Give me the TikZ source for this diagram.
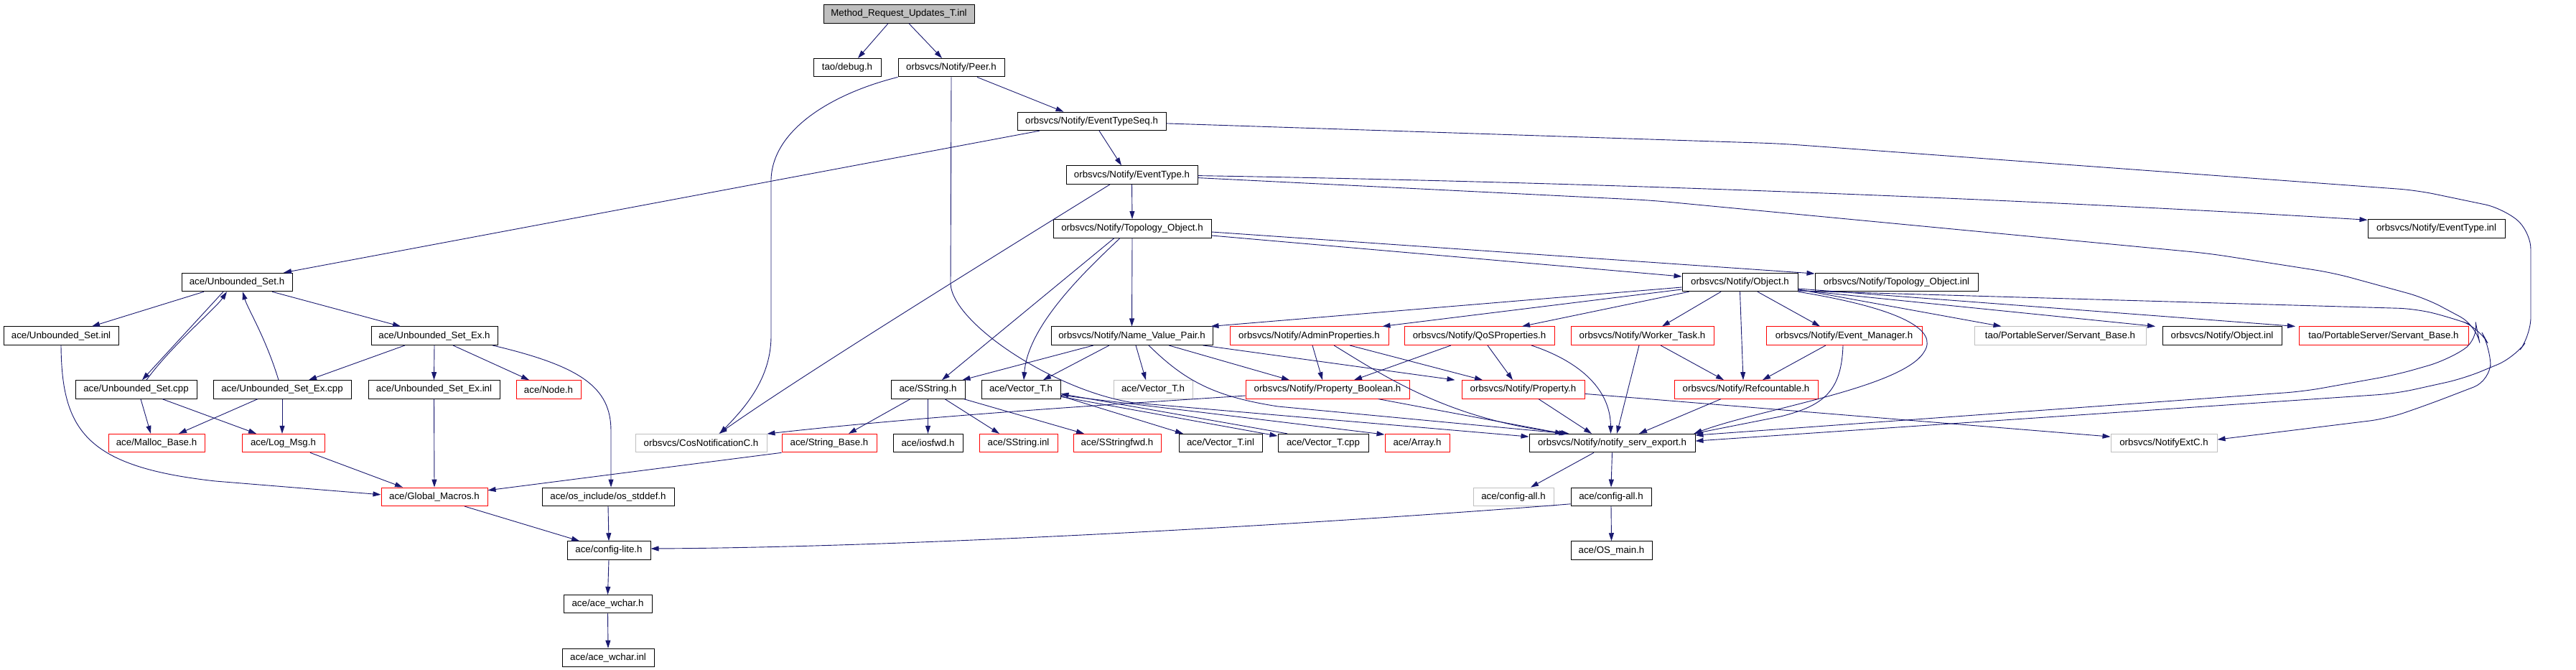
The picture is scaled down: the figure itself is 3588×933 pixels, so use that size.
\documentclass[tikz,border=0pt]{standalone}
\usepackage{fontspec}
\setmainfont{Liberation Sans}
\usetikzlibrary{arrows.meta}
\definecolor{edgec}{HTML}{191970}
\definecolor{grayc}{HTML}{BFBFBF}
\tikzset{
 box/.style={rectangle, draw=black, line width=1pt, minimum height=25.5pt, inner xsep=2pt, inner ysep=0pt, font=\fontsize{13.3}{15}\selectfont, text=black},
 nb/.style={box},
 rb/.style={box, draw=red},
 gb/.style={box, draw=grayc},
 rootb/.style={box, fill=grayc},
 edge/.style={draw=edgec, line width=0.9pt, -{Triangle[length=11pt,width=7pt]}},
}
\begin{document}
\begin{tikzpicture}[x=1pt,y=-1pt]
\fill[white] (0,0) rectangle (3588,933);
\useasboundingbox (0,0) rectangle (3588,933);
% row 0
\node[rootb, minimum width=210pt] (root) at (1252,19.5) {Method\_Request\_Updates\_T.inl};
% row 1
\node[nb, minimum width=94pt] (debug) at (1180,94.2) {tao/debug.h};
\node[nb, minimum width=148pt] (peer) at (1325,94.2) {orbsvcs/Notify/Peer.h};
% row 2
\node[nb, minimum width=207pt] (ets) at (1520.5,168.9) {orbsvcs/Notify/EventTypeSeq.h};
% row 3
\node[nb, minimum width=183pt] (et) at (1576.5,243.6) {orbsvcs/Notify/EventType.h};
% row 4
\node[nb, minimum width=220pt] (topo) at (1577,318.3) {orbsvcs/Notify/Topology\_Object.h};
\node[nb, minimum width=191pt] (etinl) at (3393.5,318.3) {orbsvcs/Notify/EventType.inl};
% row 5
\node[nb, minimum width=154pt] (us) at (330,393) {ace/Unbounded\_Set.h};
\node[nb, minimum width=161pt] (obj) at (2423.5,393) {orbsvcs/Notify/Object.h};
\node[nb, minimum width=227pt] (topoinl) at (2641.5,393) {orbsvcs/Notify/Topology\_Object.inl};
% row 6
\node[nb, minimum width=160pt] (usinl) at (85,467.7) {ace/Unbounded\_Set.inl};
\node[nb, minimum width=176pt] (usex) at (605,467.7) {ace/Unbounded\_Set\_Ex.h};
\node[nb, minimum width=225pt] (nvp) at (1576.5,467.7) {orbsvcs/Notify/Name\_Value\_Pair.h};
\node[rb, minimum width=221pt] (admin) at (1823.5,467.7) {orbsvcs/Notify/AdminProperties.h};
\node[rb, minimum width=209pt] (qos) at (2060.5,467.7) {orbsvcs/Notify/QoSProperties.h};
\node[rb, minimum width=199pt] (worker) at (2287.5,467.7) {orbsvcs/Notify/Worker\_Task.h};
\node[rb, minimum width=217pt] (evm) at (2568.5,467.7) {orbsvcs/Notify/Event\_Manager.h};
\node[gb, minimum width=239pt] (sbg) at (2869.5,467.7) {tao/PortableServer/Servant\_Base.h};
\node[nb, minimum width=166pt] (objinl) at (3095,467.7) {orbsvcs/Notify/Object.inl};
\node[rb, minimum width=236pt] (sbr) at (3320,467.7) {tao/PortableServer/Servant\_Base.h};
% row 7
\node[nb, minimum width=169pt] (uscpp) at (189.5,542.4) {ace/Unbounded\_Set.cpp};
\node[nb, minimum width=192pt] (usexcpp) at (393,542.4) {ace/Unbounded\_Set\_Ex.cpp};
\node[nb, minimum width=183pt] (usexinl) at (604.5,542.4) {ace/Unbounded\_Set\_Ex.inl};
\node[rb, minimum width=90pt] (nodeh) at (764,542.4) {ace/Node.h};
\node[nb, minimum width=103pt] (sstr) at (1292.5,542.4) {ace/SString.h};
\node[nb, minimum width=110pt] (vect) at (1422,542.4) {ace/Vector\_T.h};
\node[gb, minimum width=110pt] (vectg) at (1606,542.4) {ace/Vector\_T.h};
\node[rb, minimum width=228pt] (pbool) at (1849,542.4) {orbsvcs/Notify/Property\_Boolean.h};
\node[rb, minimum width=171pt] (prop) at (2121.5,542.4) {orbsvcs/Notify/Property.h};
\node[rb, minimum width=200pt] (refc) at (2432,542.4) {orbsvcs/Notify/Refcountable.h};
% row 8
\node[rb, minimum width=134pt] (malloc) at (218,617.1) {ace/Malloc\_Base.h};
\node[rb, minimum width=115pt] (logmsg) at (394.5,617.1) {ace/Log\_Msg.h};
\node[gb, minimum width=183pt] (cosn) at (976.5,617.1) {orbsvcs/CosNotificationC.h};
\node[rb, minimum width=132pt] (strbase) at (1155,617.1) {ace/String\_Base.h};
\node[nb, minimum width=97pt] (iosfwd) at (1292.5,617.1) {ace/iosfwd.h};
\node[rb, minimum width=109pt] (sstrinl) at (1418.5,617.1) {ace/SString.inl};
\node[rb, minimum width=122pt] (sstrfwd) at (1556,617.1) {ace/SStringfwd.h};
\node[nb, minimum width=116pt] (vectinl) at (1700,617.1) {ace/Vector\_T.inl};
\node[nb, minimum width=126pt] (vectcpp) at (1843,617.1) {ace/Vector\_T.cpp};
\node[rb, minimum width=90pt] (array) at (1974,617.1) {ace/Array.h};
\node[nb, minimum width=231pt] (nse) at (2245.5,617.1) {orbsvcs/Notify/notify\_serv\_export.h};
\node[gb, minimum width=148pt] (nextc) at (3014,617.1) {orbsvcs/NotifyExtC.h};
% row 9
\node[rb, minimum width=148pt] (gmac) at (605,691.8) {ace/Global\_Macros.h};
\node[nb, minimum width=184pt] (stddef) at (847,691.8) {ace/os\_include/os\_stddef.h};
\node[gb, minimum width=112pt] (cfgallg) at (2108,691.8) {ace/config-all.h};
\node[nb, minimum width=112pt] (cfgall) at (2244,691.8) {ace/config-all.h};
% row 10
\node[nb, minimum width=116pt] (cfglite) at (848,766.5) {ace/config-lite.h};
\node[nb, minimum width=113pt] (osmain) at (2244.5,766.5) {ace/OS\_main.h};
% row 11, 12
\node[nb, minimum width=123pt] (wchar) at (846.5,841.2) {ace/ace\_wchar.h};
\node[nb, minimum width=128pt] (wcharinl) at (847,915.9) {ace/ace\_wchar.inl};

% ---- edges ----
\draw[edge] ([xshift=-15pt]root.south) -- ([xshift=15pt]debug.north);
\draw[edge] ([xshift=14pt]root.south) -- ([xshift=-13pt]peer.north);
\draw[edge] ([xshift=36pt]peer.south) -- ([xshift=-39pt]ets.north);
\draw[edge] (peer.south west) .. controls (1160,130) and (1076,180) .. (1074,250) -- (1074,470) .. controls (1073,530) and (1035,570) .. ([xshift=26pt]cosn.north);
\draw[edge] (peer.south) -- (1324,395) .. controls (1326,450) and (1470,545) .. (1580,561) -- ([yshift=9pt]nse.west);
\draw[edge] ([xshift=10.5pt]ets.south) -- ([xshift=-14.5pt]et.north);
\draw[edge] ([xshift=-72.5pt]ets.south) -- ([xshift=65pt]us.north);
\draw[edge, rounded corners=25pt] ([yshift=-3pt]ets.east) -- (2480,200) -- (3366,265) -- (3486,290) -- (3525,322) -- (3525,467) -- (3502,498) -- (3432,527) -- (3337,548) -- ([yshift=3pt]nse.east);
\draw[edge] (et.south) -- (topo.north);
\draw[edge] ([yshift=-1pt]et.east) .. controls (2300,255) and (2900,282) .. ([yshift=12pt]etinl.west);
\draw[edge, rounded corners=25pt] ([yshift=-4pt]et.east) -- (2300,279) -- (3077,353) -- (3250,380) -- (3378,415) -- (3449,453) -- (3453,473) -- (3407,502) -- (3337,522) -- (3209,545) -- ([yshift=11pt]nse.east);
\draw[edge] ([xshift=-30.5pt]et.south) .. controls (1420,335) and (1120,520) .. ([xshift=25pt]cosn.north);
\draw[edge] (topo.south) -- (nvp.north);
\draw[edge] ([xshift=-25pt]topo.south) -- ([xshift=19.5pt]sstr.north);
\draw[edge] ([xshift=-17pt]topo.south) .. controls (1520,370) and (1432,450) .. ([xshift=4pt]vect.north);
\draw[edge] ([yshift=-4.7pt]topo.east) -- ([yshift=12pt]topoinl.west);
\draw[edge] ([yshift=-9.7pt]topo.east) -- ([yshift=8pt]obj.west);
% Unbounded set cluster
\draw[edge] ([xshift=-46pt]us.south) -- ([xshift=43pt]usinl.north);
\draw[edge] ([xshift=-19pt]us.south) -- ([xshift=8.5pt]uscpp.north);
\draw[edge] ([xshift=14.5pt]uscpp.north) .. controls (240,480) and (300,430) .. ([xshift=-14pt]us.south);
\draw[edge] ([xshift=-5pt]usexcpp.north) .. controls (370,470) and (345,430) .. ([xshift=8pt]us.south);
\draw[edge] ([xshift=49pt]us.south) -- ([xshift=-47pt]usex.north);
\draw[edge] (usinl.south) .. controls (86,600) and (120,650) .. (300,670) -- ([yshift=3pt]gmac.west);
\draw[edge] ([xshift=-41pt]usex.south) -- ([xshift=37pt]usexcpp.north);
\draw[edge] (usex.south) -- (usexinl.north);
\draw[edge] ([xshift=26pt]usex.south) -- ([xshift=-27pt]nodeh.north);
\draw[edge] ([xshift=81pt]usex.south) .. controls (810,510) and (851,540) .. (851,600) -- ([xshift=4pt]stddef.north);
\draw[edge] ([xshift=6.5pt]uscpp.south) -- ([xshift=-8pt]malloc.north);
\draw[edge] ([xshift=36.5pt]uscpp.south) -- ([xshift=-37.5pt]logmsg.north);
\draw[edge] ([xshift=-34pt]usexcpp.south) -- ([xshift=31pt]malloc.north);
\draw[edge] (usexcpp.south) -- ([xshift=-1.5pt]logmsg.north);
\draw[edge] (usexinl.south) -- (gmac.north);
\draw[edge] ([xshift=37.5pt]logmsg.south) -- ([xshift=-44pt]gmac.north);
\draw[edge] (strbase.south west) -- ([yshift=9pt]gmac.east);
\draw[edge] ([xshift=42pt]gmac.south) -- ([xshift=-41pt]cfglite.north);
\draw[edge] (stddef.south) -- (cfglite.north);
\draw[edge] (cfglite.south) -- (wchar.north);
\draw[edge] (wchar.south) -- (wcharinl.north);
\draw[edge] ([yshift=-10pt]cfgall.west) .. controls (1900,725) and (1300,762) .. ([yshift=2.5pt]cfglite.east);
\draw[edge] ([xshift=-25.5pt]nse.south) -- ([xshift=24pt]cfgallg.north);
\draw[edge] (nse.south) -- (cfgall.north);
\draw[edge] (cfgall.south) -- (osmain.north);
% SString / Vector
\draw[edge] ([xshift=-24.5pt]sstr.south) -- ([xshift=27pt]strbase.north);
\draw[edge] (sstr.south) -- (iosfwd.north);
\draw[edge] ([xshift=23.5pt]sstr.south) -- ([xshift=-26.5pt]sstrinl.north);
\draw[edge] ([xshift=-2pt]sstr.south east) -- ([xshift=-46pt]sstrfwd.north);
\draw[edge] ([yshift=-9pt]vect.east) -- ([xshift=-52pt]vectinl.north);
\draw[edge] ([yshift=-10pt]vect.east) -- ([yshift=10pt]vectcpp.west);
\draw[edge] ([yshift=-8pt]vect.east) -- ([yshift=12pt]array.west);
\draw[edge] ([xshift=-50pt]vectcpp.north) -- ([yshift=-6pt]vect.east);
% Name_Value_Pair
\draw[edge] ([xshift=-53.5pt]nvp.south) -- ([xshift=48pt]sstr.north);
\draw[edge] ([xshift=-31.5pt]nvp.south) -- ([xshift=31pt]vect.north);
\draw[edge] ([xshift=5.5pt]nvp.south) -- ([xshift=-10pt]vectg.north);
\draw[edge] ([xshift=51.5pt]nvp.south) -- ([xshift=-53pt]pbool.north);
\draw[edge] ([xshift=23.5pt]nvp.south) .. controls (1650,530) and (1690,552) .. (1780,566) -- ([xshift=-63pt]nse.north);
\draw[edge] ([xshift=99pt]nvp.south) -- ([xshift=-95pt]prop.north);
% Admin / QoS / Worker
\draw[edge] ([xshift=4.5pt]admin.south) -- ([xshift=-7pt]pbool.north);
\draw[edge] ([xshift=56.5pt]admin.south) -- ([xshift=-56.5pt]prop.north);
\draw[edge] ([xshift=34.5pt]admin.south) .. controls (1930,525) and (2020,585) .. ([xshift=-60pt]nse.north);
\draw[edge] ([xshift=-39.5pt]qos.south) -- ([xshift=37pt]pbool.north);
\draw[edge] ([xshift=11.5pt]qos.south) -- ([xshift=-14.5pt]prop.north);
\draw[edge] ([xshift=72.5pt]qos.south) .. controls (2205,505) and (2243,545) .. ([xshift=-2pt]nse.north);
\draw[edge] ([xshift=-4.5pt]worker.south) -- ([xshift=6.5pt]nse.north);
\draw[edge] ([xshift=25.5pt]worker.south) -- ([xshift=-31pt]refc.north);
% Object.h
\draw[edge] ([yshift=-7pt]obj.west) -- ([xshift=-3pt]nvp.north east);
\draw[edge] ([yshift=-10pt]obj.west) -- ([xshift=-9pt]admin.north east);
\draw[edge] ([xshift=10pt]obj.south west) -- ([xshift=59.5pt]qos.north);
\draw[edge] ([xshift=-26.5pt]obj.south) -- ([xshift=27.5pt]worker.north);
\draw[edge] (obj.south) -- ([xshift=-4pt]refc.north);
\draw[edge] ([xshift=24.5pt]obj.south) -- ([xshift=-33.5pt]evm.north);
\draw[edge] (obj.south east) .. controls (2650,430) and (2700,460) .. (2680,490) .. controls (2650,540) and (2450,570) .. ([xshift=-2pt]nse.north east);
\draw[edge] ([yshift=-10pt]obj.east) -- ([xshift=-82pt]sbg.north);
\draw[edge] ([yshift=-11pt]obj.east) -- ([xshift=-93pt]objinl.north);
\draw[edge] ([yshift=-9pt]obj.east) -- ([xshift=-123pt]sbr.north);
\draw[edge, rounded corners=25pt] ([yshift=-12pt]obj.east) -- (3366,430) -- (3416,443) -- (3453,456) -- (3469,485) -- (3469,530) -- (3383,563) -- (3325,583) -- ([yshift=5pt]nextc.east);
% Event manager, refcountable, property
\draw[edge] ([xshift=-25.5pt]evm.south) -- ([xshift=23pt]refc.north);
\draw[edge] ([xshift=-1.5pt]evm.south) .. controls (2565,545) and (2540,565) .. (2480,580) -- ([xshift=-2pt]nse.north east);
\draw[edge] ([xshift=-35pt]refc.south) -- ([xshift=37.5pt]nse.north);
\draw[edge] ([xshift=71pt]pbool.south) -- ([xshift=-68.5pt]nse.north);
\draw[edge] ([yshift=-8.6pt]pbool.west) .. controls (1600,560) and (1300,578) .. ([yshift=13pt]cosn.east);
\draw[edge] ([xshift=21.5pt]prop.south) -- ([xshift=-28.5pt]nse.north);
\draw[edge] ([yshift=-6pt]prop.east) -- ([yshift=9pt]nextc.west);
\end{tikzpicture}
\end{document}
